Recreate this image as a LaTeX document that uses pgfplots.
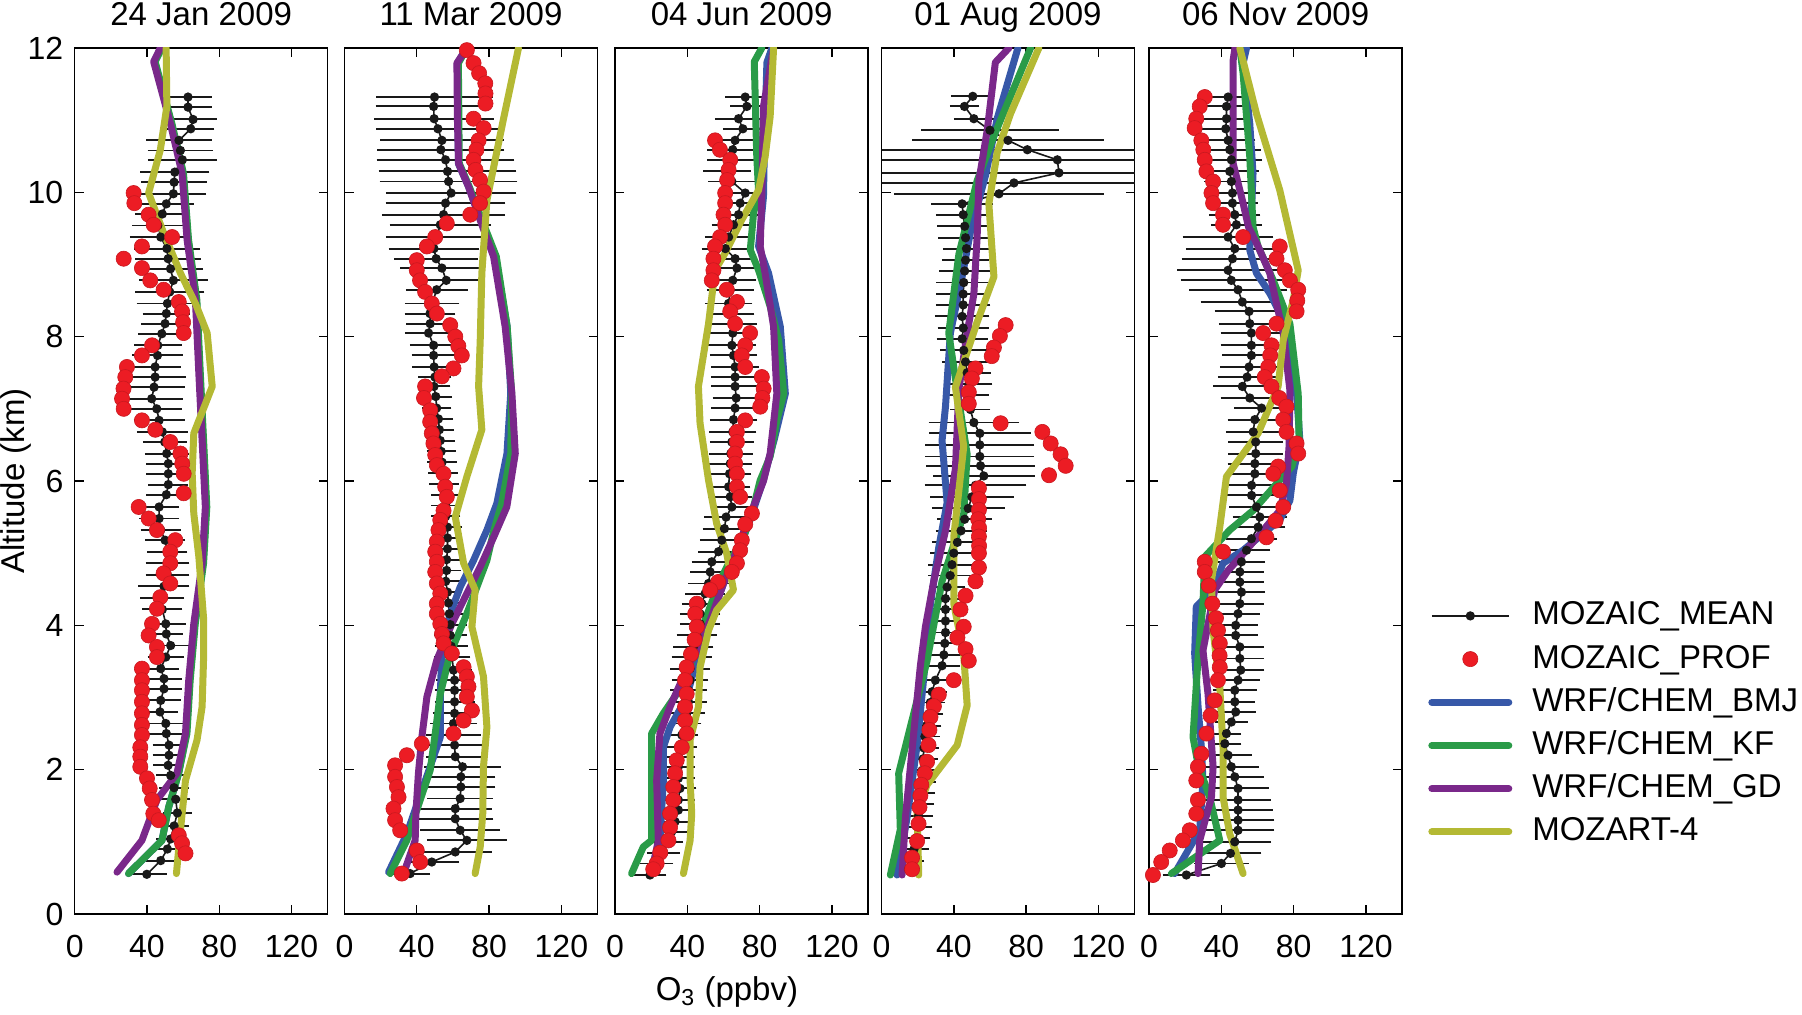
\documentclass[border=0pt]{standalone}
\usepackage{fontspec}
\setmainfont{Liberation Sans}
\usepackage{pgfplots}
\usepackage{pgfplotstable}
\pgfplotsset{compat=1.18}

\definecolor{mblue}{RGB}{55,88,168}
\definecolor{mgreen}{RGB}{42,155,72}
\definecolor{mpurple}{RGB}{122,40,138}
\definecolor{myellow}{RGB}{180,185,52}
\definecolor{mred}{RGB}{236,28,36}
\definecolor{mblack}{RGB}{25,25,25}

\newcommand{\tickfont}{\fontsize{16}{19}\selectfont}
\newcommand{\labfont}{\fontsize{16.5}{19}\selectfont}

% ---------------- Panel A : 24 Jan 2009 ----------------
\pgfplotstableread{
y x e
11.32 62.7 10
11.18 62.7 10
11.01 65.5 10
10.88 64.2 10
10.72 57.7 15
10.58 58.5 15
10.45 59.6 16
10.28 55.4 16
10.14 55.0 15
9.98 54.6 15
9.84 50.7 12
9.70 48.5 12
9.54 46.0 11
9.38 47.6 14
9.22 51.0 15
9.08 51.7 15
8.94 53.0 15
8.78 54.6 16
8.62 52.6 16
8.46 51.3 14
8.32 50.7 10
8.18 50.0 10
8.04 48.2 10
7.88 46.0 10
7.74 45.8 11
7.58 44.5 11
7.44 44.5 14
7.30 43.9 14
7.14 42.6 14
7.00 45.4 11
6.84 46.7 11
6.68 48.5 11
6.54 49.8 9
6.38 50.9 9
6.24 51.8 9
6.10 51.8 9
5.95 51.8 8
5.81 50.7 8
5.64 46.7 8
5.48 46.7 8
5.32 47.6 8
5.18 50.0 8
5.02 51.3 8
4.86 51.3 9
4.70 51.3 9
4.54 49.4 11
4.38 48.5 9
4.22 48.5 8
4.02 50.4 8
3.88 50.7 6
3.72 53.1 8
3.56 50.4 7
3.40 47.6 7
3.26 49.4 7
3.12 49.4 7
2.96 47.6 8
2.80 47.2 7
2.64 50.4 7
2.50 50.7 7
2.34 52.2 6
2.20 52.2 6
2.06 51.7 5
1.92 53.1 5
1.75 55.0 5
1.59 55.9 5
1.40 56.8 5
1.22 55.0 5
1.04 53.1 5
0.90 51.3 5
0.74 47.6 5
0.55 39.9 8
}\mA
\pgfplotstableread{
y x
9.99 32.6
9.85 33.0
9.69 40.9
9.55 43.7
9.38 53.9
9.25 37.2
9.08 27.1
8.95 37.2
8.78 41.8
8.65 49.2
8.48 57.6
8.35 59.4
8.20 60.0
8.05 60.3
7.88 42.8
7.74 37.2
7.58 28.9
7.44 28.0
7.28 27.0
7.14 26.2
7.00 27.1
6.84 37.2
6.71 44.6
6.54 52.9
6.38 58.5
6.24 59.5
6.10 60.3
5.83 60.3
5.64 35.4
5.48 40.9
5.32 45.5
5.18 55.7
5.02 52.9
4.86 52.9
4.72 49.2
4.58 52.9
4.39 47.4
4.23 45.5
4.02 42.8
3.86 40.9
3.70 45.5
3.56 45.5
3.40 37.2
3.24 37.2
3.10 37.2
2.94 37.2
2.78 37.2
2.62 37.2
2.48 37.2
2.31 36.3
2.18 36.3
2.04 36.3
1.88 40.0
1.74 41.5
1.58 42.8
1.39 43.5
1.30 46.5
1.09 57.6
0.98 59.4
0.84 61.3
}\rA
\pgfplotstableread{
x y
48.0 12.0
44.2 11.81
53.5 10.95
59.9 10.26
62.7 9.34
67.3 8.51
69.2 7.49
71.0 6.57
72.8 5.64
71.0 4.86
66.4 4.02
63.6 3.24
61.8 2.5
57.5 1.95
52.0 1.48
48.3 1.02
29.8 0.56
}\bA
\pgfplotstableread{
x y
48.2 12.0
44.5 11.81
53.8 10.95
60.2 10.26
63.0 9.34
67.6 8.51
69.5 7.49
71.3 6.57
73.1 5.64
71.3 4.86
66.7 4.02
63.9 3.24
62.1 2.5
57.5 1.95
52.0 1.48
48.3 1.02
29.8 0.56
}\kA
\pgfplotstableread{
x y
47.4 12.0
43.7 11.81
53.0 10.95
59.4 10.26
62.2 9.34
66.8 8.51
68.7 7.49
70.5 6.57
72.3 5.64
70.5 4.86
65.9 4.02
63.1 3.24
61.3 2.5
56.6 1.95
45.5 1.58
37.2 1.02
23.4 0.58
}\gA
\pgfplotstableread{
x y
50.6 12.0
51.0 11.19
47.4 10.59
40.9 9.99
49.3 9.43
58.5 8.88
66.8 8.46
73.3 8.05
76.1 7.31
65.9 6.66
65.0 6.11
65.9 5.55
68.7 4.95
71.4 4.07
71.4 3.61
70.5 2.87
67.7 2.41
61.3 1.85
58.5 1.16
56.3 0.56
}\zA

% ---------------- Panel B : 11 Mar 2009 ----------------
\pgfplotstableread{
y x e
11.32 49.8 29
11.19 49.3 29
11.02 49.6 30
10.88 51.7 31
10.72 53.9 31
10.59 53.3 32
10.45 55.9 35
10.29 57.0 35
10.15 57.6 35
9.99 59.0 33
9.85 55.9 30
9.69 54.8 31
9.55 53.0 25
9.38 51.0 25
9.22 49.5 22
9.08 50.7 20
8.95 53.9 20
8.78 56.3 15
8.65 51.0 14
8.46 48.5 12
8.32 47.3 11
8.18 47.4 10
8.05 46.5 10
7.88 49.3 10
7.74 49.3 9
7.58 49.6 9
7.44 50.0 6
7.31 49.5 6
7.17 50.5 6
7.01 51.0 5
6.86 52.0 5
6.71 52.5 5
6.56 53.0 5
6.41 53.5 5
6.26 54.0 5
6.11 54.5 5
5.96 55.0 5
5.81 56.0 5
5.66 56.0 5
5.51 56.0 5
5.36 57.0 5
5.21 57.0 5
5.06 57.0 5
4.91 56.5 5
4.76 56.5 5
4.61 56.0 5
4.46 57.0 5
4.31 57.5 5
4.16 58.0 6
4.01 58.5 6
3.86 58.5 6
3.71 59.0 6
3.56 59.5 7
3.38 60.3 7
3.24 60.9 7
3.10 60.9 8
2.94 60.9 8
2.78 60.9 9
2.64 60.3 10
2.48 60.3 12
2.34 60.9 12
2.18 61.3 13
2.04 65.3 18
1.90 64.4 16
1.76 64.4 16
1.60 64.0 15
1.46 61.3 17
1.32 61.3 18
1.16 64.0 19
1.02 67.7 19
0.86 61.3 17
0.72 48.3 12
0.56 36.3 8
}\mB
\pgfplotstableread{
y x
11.97 67.7
11.79 71.4
11.65 74.5
11.51 77.9
11.37 78.0
11.23 78.0
11.02 71.4
10.89 77.0
10.72 74.2
10.59 73.0
10.45 71.4
10.31 72.5
10.17 75.0
10.01 77.0
9.85 75.0
9.69 69.6
9.57 56.6
9.38 50.2
9.25 45.6
9.06 40.0
8.92 40.0
8.78 41.8
8.62 44.6
8.46 48.3
8.32 51.1
8.16 58.5
8.00 61.3
7.87 63.0
7.74 64.9
7.56 60.3
7.45 53.9
7.31 44.6
7.15 44.0
6.98 47.4
6.82 47.4
6.66 48.3
6.52 49.2
6.36 50.2
6.22 51.1
6.10 54.8
5.92 55.7
5.78 56.6
5.59 54.8
5.46 53.0
5.32 52.0
5.16 51.1
5.02 50.2
4.88 51.1
4.74 50.2
4.58 51.1
4.44 53.0
4.30 51.1
4.16 51.1
4.02 53.0
3.88 53.9
3.75 54.8
3.61 59.4
3.42 65.9
3.29 67.7
3.15 68.6
3.01 67.7
2.82 70.5
2.68 65.9
2.50 60.3
2.36 42.8
2.20 34.5
2.06 28.0
1.90 28.0
1.76 29.0
1.62 29.9
1.46 27.1
1.30 28.0
1.16 30.8
0.88 40.0
0.72 41.9
0.56 31.7
}\rB
\pgfplotstableread{
x y
67.7 12.0
62.5 11.79
63.0 10.4
68.6 10.08
75.5 9.62
83.5 9.11
90.0 8.14
92.0 7.22
89.9 6.38
84.3 5.69
78.8 5.32
71.4 4.9
64.0 4.53
58.5 4.16
53.9 3.7
53.0 3.01
53.0 2.45
47.4 2.04
41.5 1.62
34.5 1.11
24.4 0.58
}\bB
\pgfplotstableread{
x y
67.7 12.0
63.0 11.79
63.5 10.4
69.0 10.08
76.0 9.62
84.0 9.11
90.0 8.14
92.5 7.22
92.0 6.38
87.0 5.69
82.5 5.3
78.8 4.9
67.7 4.16
58.5 3.61
53.0 3.05
50.2 2.5
47.4 1.99
40.0 1.44
34.5 1.02
25.3 0.56
}\kB
\pgfplotstableread{
x y
67.7 12.0
62.2 11.79
62.5 11.0
63.1 10.40
68.6 10.08
75.0 9.62
82.5 9.11
88.9 8.14
92.6 7.22
94.5 6.38
89.8 5.64
82.5 5.22
75.1 4.81
67.7 4.44
59.4 4.02
51.1 3.52
45.6 3.01
42.8 2.45
40.9 1.95
39.5 1.39
39.1 1.02
32.7 0.56
}\gB
\pgfplotstableread{
x y
96.3 12.0
88.0 11.02
78.8 9.89
76.0 8.88
75.1 7.95
74.2 7.31
76.0 6.71
67.7 6.06
61.3 5.5
65.9 4.86
72.3 4.49
70.5 3.98
76.9 3.29
78.8 2.59
76.9 2.04
76.5 1.39
75.1 0.93
72.3 0.56
}\zB

% ---------------- Panel C : 04 Jun 2009 ----------------
\pgfplotstableread{
y x e
11.32 72.0 8
11.19 72.9 6
11.02 68.3 10
10.88 70.7 8
10.72 66.4 11
10.59 65.1 11
10.45 64.0 10
10.29 62.0 10
10.15 64.6 10
9.99 72.0 8
9.85 69.2 8
9.69 68.3 8
9.55 65.5 9
9.38 62.8 10
9.22 61.0 10
9.08 66.4 9
8.95 67.4 8
8.78 65.1 10
8.65 63.7 10
8.46 62.8 10
8.32 64.0 10
8.18 65.5 10
8.05 65.1 10
7.88 64.6 10
7.74 65.5 10
7.58 66.4 10
7.44 66.4 10
7.31 66.4 10
7.15 67.0 10
7.01 66.4 10
6.85 65.5 10
6.68 65.1 10
6.54 64.6 9
6.38 64.0 9
6.24 63.7 9
6.10 63.3 9
5.92 62.8 9
5.78 63.7 9
5.64 64.6 9
5.50 61.4 9
5.34 60.5 9
5.18 59.0 9
5.02 57.2 8
4.88 53.5 8
4.74 52.6 8
4.58 51.7 8
4.44 49.8 8
4.30 48.0 8
4.16 47.0 8
4.02 47.0 8
3.86 45.2 8
3.70 43.3 8
3.56 42.4 8
3.40 41.5 8
3.24 41.5 7
3.10 40.6 7
2.94 40.6 7
2.78 39.6 7
2.64 38.7 6
2.48 36.9 6
2.31 36.0 6
2.18 35.0 6
2.04 35.0 6
1.88 35.0 6
1.74 35.9 6
1.58 35.0 6
1.44 35.0 6
1.28 33.2 6
1.14 31.3 6
1.00 28.5 6
0.84 26.7 6
0.70 23.0 6
0.54 19.3 6
}\mC
\pgfplotstableread{
y x
10.72 55.3
10.59 58.0
10.45 63.7
10.31 62.8
10.17 62.0
9.99 60.9
9.85 60.9
9.69 60.0
9.55 60.9
9.38 58.1
9.25 55.3
9.08 54.4
8.92 54.4
8.78 53.5
8.65 61.8
8.48 67.4
8.35 63.7
8.18 66.4
8.05 74.7
7.88 72.0
7.74 70.1
7.58 72.0
7.44 81.2
7.28 82.2
7.15 81.5
7.03 80.3
6.84 72.0
6.68 67.4
6.54 67.4
6.38 66.4
6.24 66.4
6.10 67.4
5.92 67.4
5.78 69.2
5.55 75.7
5.40 72.0
5.18 70.1
5.04 69.2
4.86 67.4
4.74 64.6
4.60 57.0
4.49 52.6
4.30 45.2
4.16 44.3
3.98 45.2
3.80 44.0
3.60 42.0
3.42 39.6
3.24 38.7
3.05 39.6
2.87 38.7
2.68 38.7
2.50 39.6
2.31 36.9
2.13 34.1
1.95 33.2
1.76 32.2
1.58 32.2
1.39 30.4
1.20 30.4
1.02 29.5
0.85 25.0
0.70 23.0
0.62 21.1
}\rC
\pgfplotstableread{
x y
86.8 12.0
84.0 11.8
82.5 10.5
82.1 9.94
79.4 9.25
84.9 8.88
91.4 8.14
94.2 7.21
88.0 6.57
82.0 6.01
74.0 5.41
65.0 4.86
60.0 4.58
52.6 4.07
46.0 3.61
39.6 3.0
30.4 2.59
26.7 2.31
26.7 1.85
24.8 1.02
19.3 0.56
}\bC
\pgfplotstableread{
x y
81.2 12.0
77.0 11.81
78.4 10.49
79.4 10.01
76.6 9.71
74.8 9.2
79.4 8.92
85.8 8.42
90.5 7.95
93.3 7.21
89.5 6.84
85.8 6.34
80.3 6.01
76.6 5.64
71.1 5.22
63.7 4.9
58.1 4.62
52.6 4.26
47.0 3.88
41.5 3.42
34.1 3.05
26.7 2.78
20.2 2.5
20.2 1.85
20.2 1.02
15.6 0.93
9.1 0.56
}\kC
\pgfplotstableread{
x y
87.7 12.0
82.1 11.19
81.2 9.99
80.3 9.25
83.0 8.88
87.7 8.14
89.5 7.21
85.8 6.38
82.1 6.0
72.9 5.41
64.6 4.86
60.0 4.58
52.6 4.07
44.3 3.61
36.9 3.24
30.4 2.87
24.8 2.5
23.0 1.85
23.9 1.02
20.2 0.56
}\gC
\pgfplotstableread{
x y
87.7 12.0
85.8 11.05
83.0 10.49
79.4 10.03
70.1 9.62
60.9 9.16
55.3 8.92
51.7 8.18
46.1 7.31
47.0 6.8
51.7 6.01
56.2 5.41
61.8 4.99
65.5 4.49
56.2 4.21
51.7 3.93
47.0 3.42
46.1 2.87
41.5 2.41
41.5 1.85
42.4 1.39
41.5 1.02
37.8 0.56
}\zC

% ---------------- Panel D : 01 Aug 2009 ----------------
\pgfplotstableread{
y x e
11.33 50.5 9
11.19 45.9 5
11.02 51.1 8
10.86 60.0 35
10.72 70.0 50
10.59 80.7 110
10.45 97.3 110
10.27 98.2 110
10.13 73.3 110
9.98 65.0 55
9.84 44.6 14
9.69 45.2 12
9.53 46.0 12
9.37 46.5 12
9.22 47.0 10
9.06 46.5 10
8.91 46.0 11
8.75 45.5 12
8.59 45.2 12
8.44 45.2 12
8.28 44.6 12
8.12 45.2 11
7.97 44.6 11
7.81 45.5 10
7.65 46.5 10
7.50 47.4 10
7.34 48.3 10
7.19 48.3 8
6.99 49.2 8
6.81 51.1 22
6.66 54.4 25
6.50 54.4 27
6.34 54.4 27
6.21 54.8 27
6.07 56.6 25
5.94 52.0 25
5.78 50.0 20
5.62 48.0 17
5.47 46.0 12
5.31 44.0 11
5.15 42.0 11
5.00 40.0 10
4.84 39.0 10
4.69 38.0 9
4.53 36.3 7
4.37 35.4 7
4.22 35.4 7
4.06 35.4 7
3.90 35.4 7
3.75 35.0 7
3.59 34.5 7
3.44 33.5 7
3.24 29.8 5
3.08 28.0 5
2.93 27.0 5
2.77 26.0 5
2.61 25.0 5
2.46 24.0 5
2.30 23.5 5
2.15 23.0 5
1.99 22.5 5
1.83 22.0 5
1.68 21.5 5
1.52 21.0 5
1.36 20.5 5
1.21 20.0 5
1.05 19.0 5
0.90 18.0 5
0.74 16.5 4
0.62 15.0 4
}\mD
\pgfplotstableread{
y x
8.16 68.7
8.01 65.5
7.85 62.2
7.73 61.0
7.56 52.0
7.42 50.0
7.23 48.3
7.07 48.3
6.80 65.9
6.68 89.0
6.52 93.6
6.37 99.1
6.21 101.9
6.08 92.7
5.90 53.9
5.75 53.9
5.60 53.9
5.47 53.5
5.35 54.0
5.23 53.9
5.10 54.0
5.00 53.9
4.80 53.9
4.61 52.0
4.41 46.5
4.22 43.7
3.98 45.5
3.83 42.0
3.67 46.5
3.51 48.3
3.24 40.0
3.04 31.7
2.88 29.0
2.73 27.1
2.55 26.5
2.34 26.0
2.11 25.2
1.95 24.0
1.79 22.0
1.64 21.5
1.48 21.0
1.25 20.5
1.01 19.7
0.78 16.9
0.62 16.9
}\rD
\pgfplotstableread{
x y
75.5 12.0
64.0 11.02
57.5 10.23
49.2 9.45
44.6 8.83
38.1 8.05
35.4 7.03
33.5 6.56
36.3 5.7
31.7 5.08
27.1 4.3
24.3 3.51
19.7 2.34
14.1 1.33
8.6 0.54
}\bD
\pgfplotstableread{
x y
82.5 12.0
62.2 10.78
52.9 10.16
42.8 9.14
37.2 8.05
40.9 7.42
47.4 6.37
45.5 5.55
33.5 4.61
25.2 3.51
9.5 1.95
10.4 1.17
4.9 0.54
}\kD
\pgfplotstableread{
x y
70.5 12.0
63.0 11.8
58.5 10.86
53.9 10.16
52.9 9.37
51.1 8.59
47.4 8.05
42.8 7.27
40.9 6.17
35.4 5.31
28.9 4.61
24.3 3.98
21.5 3.44
17.8 2.5
13.2 1.33
11.4 0.54
}\gD
\pgfplotstableread{
x y
87.1 12.0
71.4 11.09
64.0 10.55
59.4 9.84
62.2 8.83
52.9 8.2
40.9 7.3
45.5 6.48
40.0 5.23
40.0 4.3
45.5 3.59
47.4 2.89
41.9 2.34
25.2 1.79
19.7 1.4
20.6 0.54
}\zD

% ---------------- Panel E : 06 Nov 2009 ----------------
\pgfplotstableread{
y x e
11.32 43.7 10
11.19 42.8 10
11.02 42.8 10
10.88 42.4 11
10.72 43.7 12
10.59 44.6 14
10.45 45.5 14
10.29 44.6 13
10.15 45.5 12
9.99 46.1 12
9.85 46.1 11
9.69 47.4 11
9.55 48.3 11
9.38 43.7 22
9.22 47.4 24
9.08 46.1 25
8.92 43.7 25
8.78 45.5 25
8.65 49.2 24
8.48 51.6 20
8.35 55.3 16
8.18 55.7 14
8.05 56.6 14
7.88 56.6 14
7.74 56.6 13
7.58 55.3 13
7.44 54.2 13
7.31 51.6 13
7.15 55.7 13
7.01 62.2 12
6.85 58.5 12
6.68 57.6 12
6.54 59.0 12
6.38 59.0 12
6.24 58.5 12
6.10 58.5 12
5.94 56.7 12
5.80 56.7 12
5.64 59.4 12
5.50 61.3 12
5.36 60.3 12
5.20 56.6 11
5.04 53.9 10
4.88 51.1 10
4.74 50.2 10
4.60 50.2 10
4.46 51.1 10
4.30 50.2 10
4.16 49.2 9
4.00 47.9 9
3.86 47.9 9
3.70 50.2 10
3.54 50.2 10
3.38 50.7 10
3.24 49.2 9
3.10 47.4 9
2.94 47.4 8
2.80 47.9 8
2.66 45.5 6
2.50 42.8 5
2.36 41.9 6
2.20 43.7 10
2.04 45.5 12
1.90 47.4 13
1.74 49.2 14
1.58 49.2 15
1.44 49.2 16
1.30 49.2 17
1.16 49.2 17
1.00 47.4 17
0.84 45.0 14
0.70 40.0 12
0.54 20.6 10
}\mE
\pgfplotstableread{
y x
11.32 30.8
11.19 28.0
11.02 26.1
10.89 25.2
10.72 28.9
10.59 30.0
10.45 30.8
10.29 31.7
10.15 35.4
9.99 34.5
9.85 35.4
9.69 40.9
9.55 40.9
9.38 52.0
9.25 72.3
9.08 70.5
8.92 75.1
8.78 77.9
8.65 82.5
8.50 82.0
8.35 81.6
8.18 70.5
8.05 63.1
7.88 67.7
7.74 67.0
7.58 65.9
7.44 64.0
7.31 67.7
7.15 72.0
7.03 76.0
6.85 74.2
6.68 76.0
6.52 81.6
6.38 82.5
6.20 71.4
6.10 68.7
5.87 72.3
5.64 74.2
5.45 70.0
5.22 64.9
5.02 40.9
4.88 30.8
4.74 30.8
4.55 33.0
4.30 35.0
4.10 37.0
3.93 38.1
3.75 39.1
3.58 39.0
3.42 39.1
3.24 38.1
2.96 36.3
2.75 34.0
2.50 31.7
2.22 28.9
2.04 27.0
1.85 26.1
1.58 27.0
1.39 26.1
1.16 22.5
1.02 18.7
0.88 11.4
0.72 6.7
0.54 2.1
}\rE
\pgfplotstableread{
x y
53.9 12.0
52.0 11.79
55.7 10.95
57.5 10.26
56.6 9.71
55.7 9.2
59.4 8.88
66.8 8.6
74.2 8.23
81.6 7.21
83.4 6.57
79.8 6.11
77.9 5.73
72.3 5.46
52.0 5.04
40.9 4.86
35.4 4.49
26.1 4.26
25.2 3.61
27.1 2.87
28.9 2.31
29.8 1.85
28.0 1.16
14.1 0.56
}\bE
\pgfplotstableread{
x y
50.2 12.0
52.0 11.65
55.7 10.49
57.5 9.52
60.3 9.25
68.7 8.78
77.9 8.18
82.5 7.21
83.0 6.57
79.0 6.2
70.5 5.96
57.5 5.59
44.6 5.32
30.8 4.95
29.8 4.3
27.1 3.56
24.3 2.45
27.0 2.08
33.5 1.62
39.1 1.02
12.3 0.56
}\kE
\pgfplotstableread{
x y
47.5 12.0
46.5 11.83
46.5 10.4
52.0 9.85
55.0 9.52
60.3 9.25
66.8 8.88
70.5 8.46
74.2 8.05
77.9 7.26
77.5 6.5
76.0 5.96
72.3 5.59
52.0 4.99
43.7 4.76
36.3 4.49
29.8 3.65
32.6 3.05
35.4 2.04
34.5 1.62
28.0 1.02
27.1 0.56
}\gE
\pgfplotstableread{
x y
50.2 12.0
59.4 11.09
72.3 10.03
82.5 8.92
79.8 8.51
74.2 7.95
71.4 7.31
60.3 6.66
42.8 6.06
39.1 5.36
34.5 4.62
35.4 3.93
39.1 3.15
40.9 2.31
40.9 1.62
44.6 1.11
52.0 0.56
}\zE

\pgfplotsset{
  panel/.style={
    anchor=south west, scale only axis,
    width=126.5pt, height=433pt,
    xmin=0, xmax=140, ymin=0, ymax=12,
    xtick={0,40,80,120}, ytick={0,2,4,6,8,10,12},
    tick align=inside, major tick length=4.5pt,
    every tick/.style={black, line width=0.7pt},
    axis line style={black, line width=0.75pt},
    /pgf/number format/assume math mode=true,
    ticklabel style={font=\tickfont},
    xticklabel style={inner sep=0pt, anchor=north, yshift=-10.5pt},
    yticklabel style={inner sep=0pt, anchor=east, xshift=-5.5pt},
    title style={font=\labfont, at={(0.5,1)}, anchor=south, yshift=5pt, inner sep=0pt, text depth=0pt},
    label style={font=\labfont},
    yticklabels={},
    clip=true,
  },
  meanplot/.style={
    color=mblack, line width=0.8pt, mark=*, mark size=1.9pt,
    mark options={solid, fill=mblack},
    error bars/.cd, x dir=both, x explicit,
    error bar style={line width=0.95pt, mblack},
    error mark options={mark size=2.8pt, line width=0.95pt, mblack},
  },
  redplot/.style={only marks, mark=*, mark size=3.8pt,
    mark options={fill=mred, draw=mred!85!black, line width=0.3pt}},
  modelline/.style={line width=3.5pt, line join=round, line cap=round, no marks},
}

\newcommand{\panelplots}[6]{%
  \addplot[meanplot] table[x=x, y=y, x error=e] {#1};
  \addplot[redplot] table[x=x, y=y] {#2};
  \addplot[modelline, mblue] table[x=x, y=y] {#3};
  \addplot[modelline, mgreen] table[x=x, y=y] {#4};
  \addplot[modelline, mpurple] table[x=x, y=y] {#5};
  \addplot[modelline, myellow] table[x=x, y=y] {#6};
}

\begin{document}
\begin{tikzpicture}
\useasboundingbox (0,0) rectangle (901pt,507.5pt);

\begin{axis}[panel, at={(37.35pt,50.5pt)}, title={24 Jan 2009},
  yticklabels={0,2,4,6,8,10,12},
  ylabel={Altitude (km)},
  ylabel style={at={(axis description cs:-0.232,0.5)}, anchor=center, inner sep=0pt}]
\panelplots{\mA}{\rA}{\bA}{\kA}{\gA}{\zA}
\end{axis}

\begin{axis}[panel, at={(172.25pt,50.5pt)}, title={11 Mar 2009}]
\panelplots{\mB}{\rB}{\bB}{\kB}{\gB}{\zB}
\end{axis}

\begin{axis}[panel, at={(307.55pt,50.5pt)}, title={04 Jun 2009},
  xlabel={O\textsubscript{3} (ppbv)},
  xlabel style={at={(axis description cs:0.442,0)}, anchor=center, yshift=-39pt, inner sep=0pt}]
\panelplots{\mC}{\rC}{\bC}{\kC}{\gC}{\zC}
\end{axis}

\begin{axis}[panel, at={(440.75pt,50.5pt)}, title={01 Aug 2009}]
\panelplots{\mD}{\rD}{\bD}{\kD}{\gD}{\zD}
\end{axis}

\begin{axis}[panel, at={(574.55pt,50.5pt)}, title={06 Nov 2009},
  legend cell align=left,
  legend image code/.code={\draw[mark repeat=2, mark phase=2, #1] plot coordinates {(0pt,0pt) (19.25pt,0pt) (38.5pt,0pt)};},
  legend style={at={(axis description cs:1.102,0.362)}, anchor=north west,
    draw=none, fill=none, font=\labfont, inner sep=0pt, row sep=6.6pt,
    nodes={inner sep=0pt, text height=12pt, text depth=3pt},
    /tikz/every odd column/.append style={column sep=10pt}}]
\panelplots{\mE}{\rE}{\bE}{\kE}{\gE}{\zE}
\addlegendentry{MOZAIC\_MEAN}
\addlegendentry{MOZAIC\_PROF}
\addlegendentry{WRF/CHEM\_BMJ}
\addlegendentry{WRF/CHEM\_KF}
\addlegendentry{WRF/CHEM\_GD}
\addlegendentry{MOZART-4}
\end{axis}
\end{tikzpicture}
\end{document}
